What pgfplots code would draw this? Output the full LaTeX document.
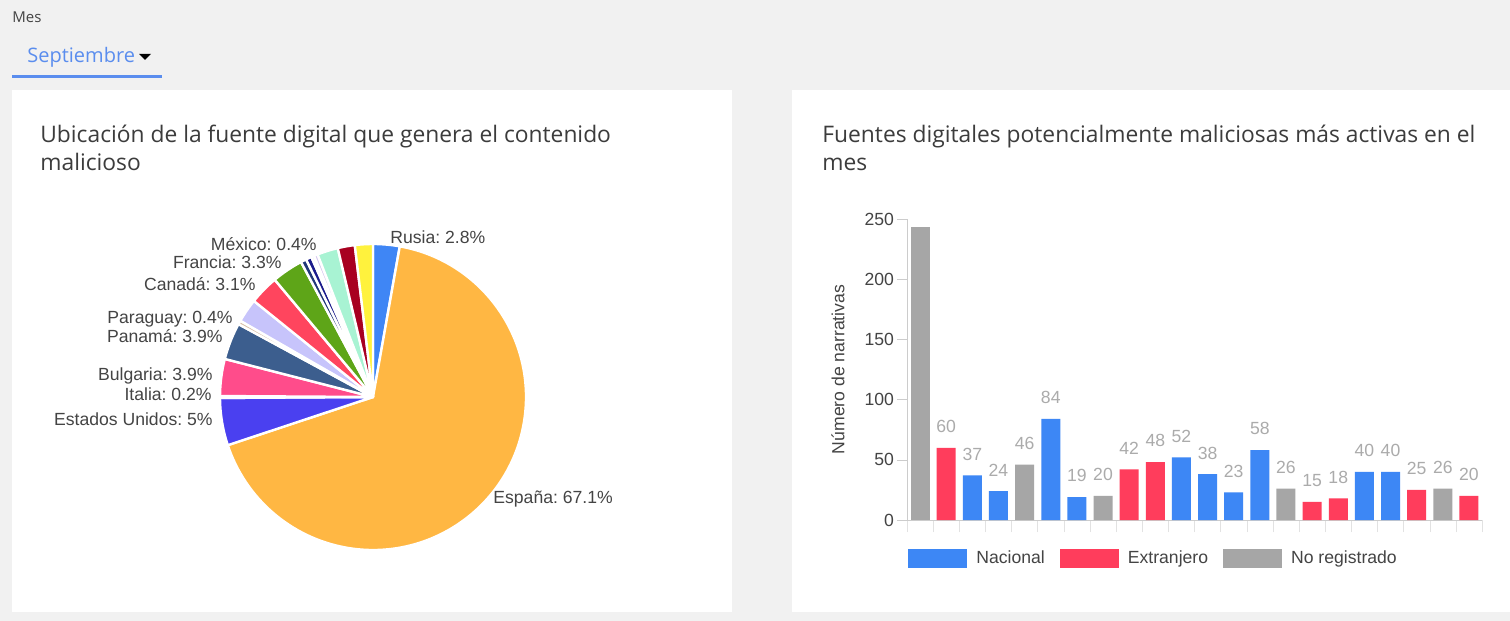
\documentclass[border=0pt]{standalone}
\usepackage{pgfplots}
\pgfplotsset{compat=1.18}
\usepackage{pgfplotstable}
\usepackage{fontspec}
\setmainfont{Liberation Sans}
\newfontfamily\titlefont{Open Sans}
\frenchspacing
\definecolor{bg}{HTML}{F1F1F1}
\definecolor{selblue}{HTML}{5A8DEE}
\definecolor{titlegray}{HTML}{3C3C3C}
\definecolor{labgray}{HTML}{444444}
\definecolor{valgray}{HTML}{ABABAB}
\definecolor{axgray}{HTML}{CCCCCC}
\definecolor{cattick}{HTML}{E2E2E2}
\definecolor{cNac}{HTML}{3D87F5}
\definecolor{cExt}{HTML}{FF3D5C}
\definecolor{cNo}{HTML}{A6A6A6}
% pie colours
\definecolor{pRusia}{HTML}{3F86F5}
\definecolor{pEsp}{HTML}{FFB743}
\definecolor{pEEUU}{HTML}{4A40F0}
\definecolor{pIta}{HTML}{E0B0E8}
\definecolor{pBul}{HTML}{FF4C8B}
\definecolor{pPan}{HTML}{3C5E8E}
\definecolor{pPar}{HTML}{D8C0A8}
\definecolor{pLav}{HTML}{C7C4FB}
\definecolor{pCan}{HTML}{FF455E}
\definecolor{pFra}{HTML}{5EA518}
\definecolor{pNavyA}{HTML}{213779}
\definecolor{pNavyB}{HTML}{1B1B8C}
\definecolor{pPink}{HTML}{F5C6E0}
\definecolor{pMex}{HTML}{D8C8F0}
\definecolor{pMint}{HTML}{A8F3D3}
\definecolor{pDRed}{HTML}{A80020}
\definecolor{pYel}{HTML}{FFF23D}

\pgfplotsset{/pgf/number format/assume math mode=true}

% bar data: category index, value
\pgfplotstableread{
x y
2 37
3 24
5 84
6 19
10 52
11 38
12 23
13 58
17 40
18 40
}\nacional
\pgfplotstableread{
x y
1 60
8 42
9 48
15 15
16 18
19 25
21 20
}\extranjero
\pgfplotstableread{
x y
4 46
7 20
14 26
20 26
}\noreg
\pgfplotstableread{
x y
0 243
}\noregtop

% pie slices, clockwise from 12 o'clock
\newcommand\piecum{90}
\newcommand\pieslice[2]{%
  \pgfmathsetmacro\pieend{\piecum-3.6*(#1)}%
  \edef\pietemp{\noexpand\fill[#2, draw=white, line width=1.2pt, line join=round] (axis cs:0,0) -- (axis cs:{cos(\piecum)},{sin(\piecum)}) arc[start angle=\piecum, end angle=\pieend, radius=76.5pt] -- cycle;}%
  \pietemp
  \global\let\piecum\pieend}

\newcommand\lab{\fontsize{8.8}{10}\selectfont}
\newcommand\ttl{\titlefont\fontsize{11.4}{13}\selectfont}

\begin{document}
\begin{tikzpicture}[x=0.5pt,y=0.5pt]
\path[use as bounding box] (0,0) rectangle (1510,621);
\fill[bg] (0,0) rectangle (1510,621);
\fill[white] (12,9) rectangle (732,531);
\fill[white] (792,9) rectangle (1510,531);

\node[anchor=base west, inner sep=0, text=labgray, font=\titlefont\fontsize{7.5}{9}\selectfont] at (12,598) {Mes};
\node[anchor=base west, inner sep=0, text=selblue, font=\titlefont\fontsize{10}{12}\selectfont] at (27,558) {Septiembre};
\fill[black] (139,567) -- (151,567) -- (145,561) -- cycle;
\fill[selblue] (12,543) rectangle (162,546);

\node[anchor=base west, inner sep=0, text=titlegray, font=\ttl] at (40,478) {Ubicación de la fuente digital que genera el contenido};
\node[anchor=base west, inner sep=0, text=titlegray, font=\ttl] at (40,450) {malicioso};
\node[anchor=base west, inner sep=0, text=titlegray, font=\ttl] at (822,478) {Fuentes digitales potencialmente maliciosas más activas en el};
\node[anchor=base west, inner sep=0, text=titlegray, font=\ttl] at (822,450) {mes};

% ---------------- pie ----------------
\begin{axis}[at={(186.5pt,112pt)}, anchor=center, scale only axis, width=153pt, height=153pt,
  xmin=-1, xmax=1, ymin=-1, ymax=1, hide axis, clip=false]
\pieslice{2.8}{pRusia}
\pieslice{67.1}{pEsp}
\pieslice{5}{pEEUU}
\pieslice{0.2}{pIta}
\pieslice{3.9}{pBul}
\pieslice{3.9}{pPan}
\pieslice{0.4}{pPar}
\pieslice{2.5}{pLav}
\pieslice{3.1}{pCan}
\pieslice{3.3}{pFra}
\pieslice{0.6}{pNavyA}
\pieslice{0.6}{pNavyB}
\pieslice{0.3}{pPink}
\pieslice{0.4}{pMex}
\pieslice{2.2}{pMint}
\pieslice{1.8}{pDRed}
\pieslice{1.9}{pYel}
\end{axis}

\begin{scope}[every node/.style={inner sep=0, text=labgray, font=\lab}]
\node[anchor=base east] at (317,370) {México: 0.4\%};
\node[anchor=base east] at (282,352) {Francia: 3.3\%};
\node[anchor=base east] at (256,330) {Canadá: 3.1\%};
\node[anchor=base east] at (233,297) {Paraguay: 0.4\%};
\node[anchor=base east] at (223,278) {Panamá: 3.9\%};
\node[anchor=base east] at (213,240) {Bulgaria: 3.9\%};
\node[anchor=base east] at (212,220) {Italia: 0.2\%};
\node[anchor=base east] at (213,195) {Estados Unidos: 5\%};
\node[anchor=base west] at (390,377) {Rusia: 2.8\%};
\node[anchor=base west] at (493,117) {España: 67.1\%};
\end{scope}

% ---------------- bars ----------------
\begin{axis}[at={(453.5pt,50.5pt)}, anchor=south west, scale only axis,
  width=287.5pt, height=150.5pt,
  xmin=-0.5, xmax=21.5, ymin=0, ymax=250,
  axis lines=left, axis line style={draw=axgray, -},
  ytick={0,50,...,250},
  xtick={-0.5,0.5,...,21.5}, xticklabels={},
  tick align=outside, major tick length=5pt,
  ytick style={draw=axgray},
  xtick style={draw=cattick, /pgfplots/major tick length=6pt},
  yticklabel style={font=\lab, text=labgray, xshift=2pt},
  ylabel={Número de narrativas},
  every axis y label/.style={at={(axis description cs:0,0.5)}, xshift=-34.5pt, rotate=90, anchor=center, font=\lab, text=labgray},
  ybar, bar width=9.5pt, bar shift=0pt,
  nodes near coords,
  every node near coord/.append style={font=\lab, text=valgray, yshift=4pt},
  legend columns=3,
  legend image code/.code={\fill[#1] (0pt,-4.75pt) rectangle (29.5pt,4.75pt); \path (32pt,0);},
  legend style={draw=none, fill=none, at={(0,0)}, anchor=north west, yshift=-11pt, xshift=-2.5pt,
    font=\lab, text=labgray, /tikz/every even column/.append style={column sep=5.5pt}},
  clip=false]
\addplot[fill=cNac, draw=none] table {\nacional};
\addplot[fill=cExt, draw=none] table {\extranjero};
\addplot[fill=cNo, draw=none] table {\noreg};
\addplot[fill=cNo, draw=none, forget plot, nodes near coords={}] table {\noregtop};
\legend{Nacional, Extranjero, No registrado}
\end{axis}
\end{tikzpicture}
\end{document}
